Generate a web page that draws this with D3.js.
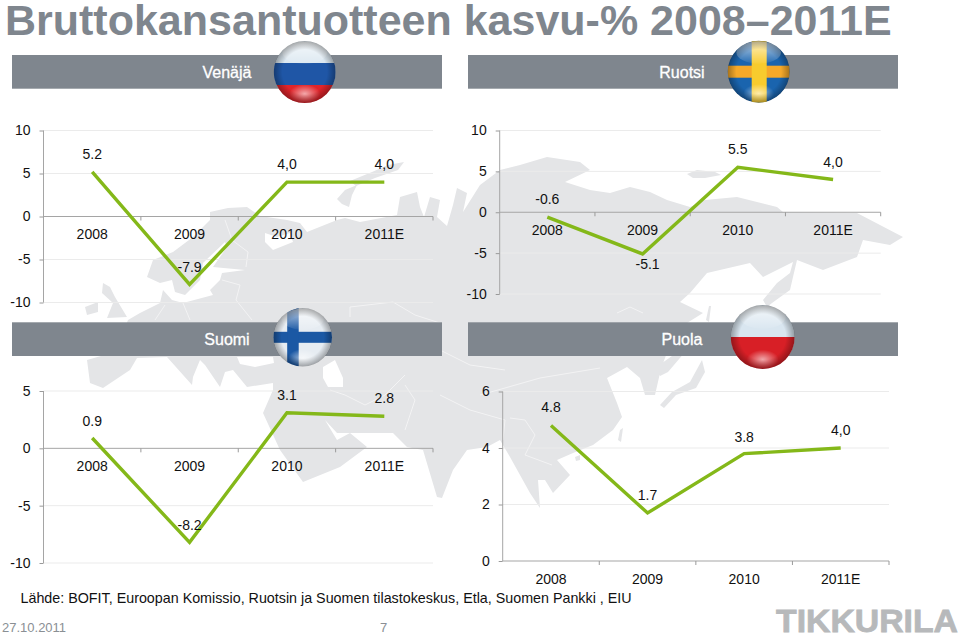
<!DOCTYPE html>
<html><head><meta charset="utf-8">
<script src="https://cdn.jsdelivr.net/npm/d3@7/dist/d3.min.js"></script>
<style>html,body{margin:0;padding:0;background:#fff;overflow:hidden}svg{display:block}text{font-family:"Liberation Sans",Arial,sans-serif}</style>
</head><body><svg id="c" width="960" height="635"></svg>
<script>
const categories = ["2008","2009","2010","2011E"];
const venajaValues = [5.2,-7.9,4.0,4.0];
const venajaLabels = ["5.2","-7.9","4,0","4,0"];
const ruotsiValues = [-0.6,-5.1,5.5,4.0];
const ruotsiLabels = ["-0.6","-5.1","5.5","4,0"];
const suomiValues = [0.9,-8.2,3.1,2.8];
const suomiLabels = ["0.9","-8.2","3.1","2.8"];
const puolaValues = [4.8,1.7,3.8,4.0];
const puolaLabels = ["4.8","1.7","3.8","4,0"];
const wideTicks = [10,5,0,-5,-10];
const suomiTicks = [5,0,-5,-10];
const puolaTicks = [6,4,2,0];

const svg = d3.select("#c");
const defs = svg.append("defs");

// background map (decorative landmass silhouette)
const land = [
 "M210,212L228,208L247,207L260,216L287,220L300,223L307,232L337,220L345,218L360,222L397,215L400,197L417,192L420,207L424,217L430,197L440,200L437,217L447,226L453,205L457,188L467,193L463,212L480,185L500,170L520,165L547,157L580,162L590,170L565,182L590,190L610,193L630,187L650,192L667,200L690,207L705,200L737,197L777,207L783,212L857,213L880,225L903,237L890,245L863,240L857,257L823,270L797,260L793,277L790,290L772,303L767,307L763,300L777,283L790,273L793,262L763,277L750,263L707,273L690,293L680,302L703,313L687,323L675,335L668,350L662,366L660,373L655,395L645,395L640,378L627,367L607,378L617,403L622,417L613,430L593,445L573,453L557,460L570,475L553,493L545,480L538,480L540,508L530,493L510,457L500,440L487,447L467,450L453,470L442,498L437,497L423,450L407,447L393,433L337,433L325,420L337,440L350,433L367,447L340,467L303,482L280,450L263,413L273,390L273,383L247,387L233,370L225,372L220,387L205,365L200,360L193,377L192,385L167,357L137,358L130,370L103,388L90,383L87,360L115,352L128,320L140,313L160,303L163,290L172,300L183,303L213,295L210,290L220,280L222,273L245,270L213,267L227,247L225,242L203,263L200,280L185,295L175,292L172,280L160,283L147,277L153,260L173,252L193,237L210,220Z",
 "M350,181L372,172L388,165L404,162L398,170L375,178L356,186Z",
 "M337,199L345,190L357,185L352,195L349,207L342,204Z",
 "M103,283L110,287L115,297L127,317L107,318L113,303L102,293Z",
 "M85,307L98,302L98,312L87,315Z",
 "M687,174L697,170L715,172L721,175L705,178L693,178Z",
 "M660,405L672,392L690,382L702,360L705,372L696,388L676,395L664,408Z",
 "M706,320L709,306L711,306L709,322Z",
 "M620,430L623,428L621,442L618,440Z",
 "M575,457L580,455L580,460L576,461Z",
 "M655,368L672,356L680,345L690,340L685,352L668,372L660,376Z"
];
const water = [
 "M265,233L277,237L290,233L293,242L273,250L265,242Z",
 "M323,367L335,360L343,378L343,387L328,387L323,378Z",
 "M237,357L273,357L274,363L255,367L240,364Z"
];
svg.append("g").selectAll("path").data(land).join("path").attr("d",d=>d).attr("fill","#e4e5e7");
svg.append("g").selectAll("path").data(water).join("path").attr("d",d=>d).attr("fill","#fff");
const borders = [
 "M350,317L350,307L393,302L415,315L440,323",
 "M617,313L630,307L643,313",
 "M225,220L232,240L248,252L246,267",
 "M222,280L240,285L236,300L252,320",
 "M183,303L190,320M155,320L165,305",
 "M330,390L345,395L365,405L385,395L405,375",
 "M405,385L415,400L405,430M440,395L470,410L505,420L503,440",
 "M510,418L525,420L535,435L525,455L552,465",
 "M480,395L505,388L540,378L600,368",
 "M430,345L470,365L505,370"
];
svg.append("g").selectAll("path").data(borders).join("path").attr("d",d=>d).attr("fill","none").attr("stroke","#f3f3f4").attr("stroke-width",1);

// title
svg.append("text").attr("x",5).attr("y",35).attr("font-size",43).attr("font-weight","bold").attr("fill","#7f868e").text("Bruttokansantuotteen kasvu-% 2008–2011E");

// header bars
const headers = [
 {name:"Venäjä",x:12,y:55,w:430,tx:227},
 {name:"Ruotsi",x:468,y:55,w:430,tx:682},
 {name:"Suomi",x:12,y:322.3,w:430,tx:227},
 {name:"Puola",x:468,y:322.3,w:430,tx:682}
];
const hg = svg.append("g");
hg.selectAll("rect").data(headers).join("rect").attr("x",d=>d.x).attr("y",d=>d.y).attr("width",d=>d.w).attr("height",33.7).attr("fill","#7f868e");
hg.selectAll("text").data(headers).join("text").attr("x",d=>d.tx).attr("y",d=>d.y+23).attr("text-anchor","middle").attr("font-size",16).attr("fill","#fff").attr("stroke","#fff").attr("stroke-width",0.3).text(d=>d.name);

// charts
const panels = [
 {values:venajaValues,labels:venajaLabels,ticks:wideTicks,x0:43.5,x1:433,y0:302.5,y1:130.5,ld:[-13,-12,-13,-13],lx:[0,0,0,0]},
 {values:ruotsiValues,labels:ruotsiLabels,ticks:wideTicks,x0:499.7,x1:880.7,y0:294,y1:130.5,ld:[-13,15,-13,-13],lx:[0,5,0,0]},
 {values:suomiValues,labels:suomiLabels,ticks:suomiTicks,x0:43.5,x1:433,y0:563,y1:391,ld:[-12,-12,-13,-13],lx:[0,0,0,0]},
 {values:puolaValues,labels:puolaLabels,ticks:puolaTicks,x0:502.7,x1:889,y0:561,y1:391.5,ld:[-13,-13,-12,-13],lx:[0,0,0,0]}
];
panels.forEach(p=>{
 const y = d3.scaleLinear().domain(d3.extent(p.ticks)).range([p.y0,p.y1]);
 const x = d3.scaleBand().domain(categories).range([p.x0,p.x1]);
 const g = svg.append("g");
 const zero = y(0);
 g.append("g").selectAll("line").data(p.ticks.filter(t=>t!==0)).join("line")
  .attr("x1",p.x0).attr("x2",p.x1).attr("y1",d=>y(d)).attr("y2",d=>y(d)).attr("stroke","#ebebeb").attr("stroke-width",1);
 const ay = g.append("g").attr("transform",`translate(${p.x0},0)`)
   .call(d3.axisLeft(y).tickValues(p.ticks).tickSize(4).tickPadding(9).tickFormat(d=>String(d)));
 ay.selectAll("text").attr("font-size",14).attr("font-family",null).attr("fill","#111");
 ay.selectAll("line").attr("stroke","#9a9a9a");
 ay.select(".domain").attr("stroke","#a5a5a5").attr("d",`M0,${p.y1}V${p.y0}`);
 const ax = g.append("g").attr("transform",`translate(0,${zero})`)
   .call(d3.axisBottom(x).tickSize(0).tickPadding(13));
 ax.selectAll("text").attr("font-size",14).attr("font-family",null).attr("fill","#111").attr("dy","0.71em");
 ax.select(".domain").attr("stroke","#a5a5a5").attr("d",`M${p.x0},0H${p.x1}`);
 g.append("g").selectAll("line").data(categories).join("line")
  .attr("x1",d=>x(d)+x.step()).attr("x2",d=>x(d)+x.step()).attr("y1",zero).attr("y2",zero+4).attr("stroke","#9a9a9a");
 const line = d3.line().x((d,i)=>x(categories[i])+x.bandwidth()/2).y(d=>y(d));
 g.append("path").datum(p.values).attr("d",line).attr("fill","none").attr("stroke","#84b819").attr("stroke-width",3.4).attr("stroke-linejoin","miter");
 g.append("g").selectAll("text").data(p.labels).join("text")
  .attr("x",(d,i)=>x(categories[i])+x.bandwidth()/2+p.lx[i])
  .attr("y",(d,i)=>y(p.values[i])+p.ld[i]).attr("text-anchor","middle").attr("font-size",14).attr("fill","#111").text(d=>d);
});

// flags
const flags = [
 {id:"fi",cx:302.7,cy:337.3,r:29.3,base:"#e6ecf2",parts:[["#1b58a4",-29.5,-5.5,59,11],["#1b58a4",-15.5,-29.5,11.5,59]]},
 {id:"ru",cx:304.7,cy:72,r:31,base:"#dce8f1",parts:[["#1f56a6",-31,-9,62,22],["#e0242a",-31,13,62,18]]},
 {id:"se",cx:758.7,cy:71.7,r:31,base:"#1a64ae",parts:[["#f5a92a",-31,-6,62,12],["#f7cb2e",-7,-31,15,62]]},
 {id:"pl",cx:762.7,cy:337,r:32,base:"#d9e6f0",parts:[["#d81f26",-32,0,64,32]]}
];
const gl = defs.append("radialGradient").attr("id","shade").attr("cx","50%").attr("cy","50%").attr("r","50%");
gl.append("stop").attr("offset","72%").attr("stop-color","#000").attr("stop-opacity",0);
gl.append("stop").attr("offset","100%").attr("stop-color","#000").attr("stop-opacity",0.32);
const hi = defs.append("linearGradient").attr("id","gloss").attr("x1",0).attr("x2",0).attr("y1",0).attr("y2",1);
hi.append("stop").attr("offset","0%").attr("stop-color","#fff").attr("stop-opacity",0.7);
hi.append("stop").attr("offset","100%").attr("stop-color","#fff").attr("stop-opacity",0.05);
const glow = defs.append("radialGradient").attr("id","glow").attr("cx","50%").attr("cy","50%").attr("r","50%");
glow.append("stop").attr("offset","0%").attr("stop-color","#fff").attr("stop-opacity",0.6);
glow.append("stop").attr("offset","100%").attr("stop-color","#fff").attr("stop-opacity",0);
flags.forEach(f=>{
 defs.append("clipPath").attr("id","clip-"+f.id).append("circle").attr("r",f.r);
 const g = svg.append("g").attr("transform",`translate(${f.cx},${f.cy})`);
 const c = g.append("g").attr("clip-path",`url(#clip-${f.id})`);
 c.append("circle").attr("r",f.r).attr("fill",f.base);
 f.parts.forEach(q=>c.append("rect").attr("fill",q[0]).attr("x",q[1]).attr("y",q[2]).attr("width",q[3]).attr("height",q[4]));
 c.append("ellipse").attr("cy",-f.r*0.62).attr("rx",f.r*0.72).attr("ry",f.r*0.36).attr("fill","url(#gloss)");
 c.append("ellipse").attr("cy",f.r*0.7).attr("rx",f.r*0.5).attr("ry",f.r*0.3).attr("fill","url(#glow)");
 g.append("circle").attr("r",f.r).attr("fill","url(#shade)");
});

// footer
svg.append("text").attr("x",20.5).attr("y",603).attr("font-size",14.3).attr("fill","#111").text("Lähde: BOFIT, Euroopan Komissio, Ruotsin ja Suomen tilastokeskus, Etla, Suomen Pankki , EIU");
svg.append("text").attr("x",2).attr("y",632).attr("font-size",13).attr("fill","#8a8f94").text("27.10.2011");
svg.append("text").attr("x",380).attr("y",632).attr("font-size",13).attr("fill","#8a8f94").text("7");
svg.append("text").attr("x",776).attr("y",632).attr("font-size",32).attr("font-weight","bold").attr("fill","#b7b9bb").attr("stroke","#b7b9bb").attr("stroke-width",0.8).attr("textLength",182).attr("lengthAdjust","spacingAndGlyphs").text("TIKKURILA");
</script></body></html>
